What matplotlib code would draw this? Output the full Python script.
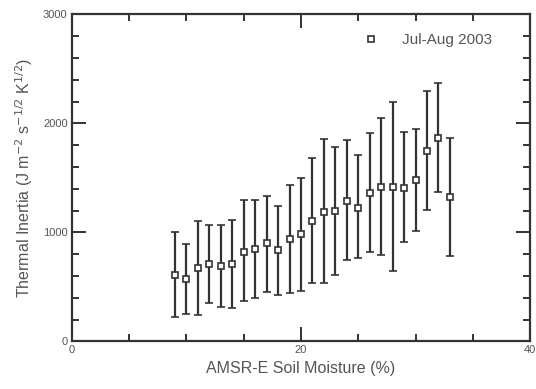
import numpy as np
import matplotlib.pyplot as plt
from matplotlib.lines import Line2D
from matplotlib.ticker import MultipleLocator

# Soil moisture bins (%) and thermal inertia statistics
moisture = [9, 10, 11, 12, 13, 14, 15, 16, 17, 18, 19, 20, 21,
            22, 23, 24, 25, 26, 27, 28, 29, 30, 31, 32, 33]
inertia_mean = [611, 569, 675, 709, 688, 709, 822, 847, 899, 835, 941, 984, 1101,
                1186, 1195, 1290, 1226, 1363, 1418, 1418, 1406, 1480, 1746, 1865, 1321]
inertia_top = [1006, 890, 1104, 1067, 1067, 1113, 1296, 1296, 1336, 1238, 1431, 1495, 1684,
               1856, 1780, 1847, 1709, 1908, 2046, 2198, 1917, 1945, 2293, 2367, 1865]
inertia_bottom = [220, 253, 241, 351, 315, 306, 370, 397, 452, 422, 446, 461, 532,
                  532, 608, 746, 761, 816, 792, 645, 908, 1015, 1205, 1372, 783]
series_label = 'Jul-Aug 2003'

plt.rcParams['font.family'] = ['Liberation Sans', 'DejaVu Sans']
txt_col = '#555555'
ink = '#333333'

fig = plt.figure(figsize=(5.36, 3.89), dpi=100)
ax = fig.add_axes([0.134, 0.1226, 0.855, 0.8406])

mean = np.array(inertia_mean)
err = [mean - np.array(inertia_bottom), np.array(inertia_top) - mean]
ax.errorbar(moisture, mean, yerr=err, fmt='s', ms=4, mfc='white', mec=ink, mew=1.2,
            ecolor=ink, elinewidth=1.6, capsize=3, capthick=1.6)

ax.set_xlim(0, 40)
ax.set_ylim(0, 3000)
ax.xaxis.set_major_locator(MultipleLocator(20))
ax.xaxis.set_minor_locator(MultipleLocator(5))
ax.yaxis.set_major_locator(MultipleLocator(1000))
ax.yaxis.set_minor_locator(MultipleLocator(200))
ax.tick_params(which='both', direction='in', top=True, right=True,
               color=ink, width=1.4, labelsize=8, labelcolor=txt_col)
ax.tick_params(which='major', length=10, pad=3)
ax.tick_params(which='minor', length=5)
for s in ax.spines.values():
    s.set_color(ink)
    s.set_linewidth(1.6)

ax.set_xlabel('AMSR-E Soil Moisture (%)', fontsize=11.5, color=txt_col, labelpad=4)
ax.set_ylabel('Thermal Inertia (J m$^{-2}$ s$^{-1/2}$ K$^{1/2}$)', fontsize=11.5,
              color=txt_col, labelpad=6)

# legend shows the marker only
handle = Line2D([], [], ls='none', marker='s', ms=4, mfc='white', mec=ink, mew=1.2)
leg = ax.legend([handle], [series_label], loc='upper right', frameon=False,
                fontsize=11, handletextpad=1.0, borderaxespad=0.3,
                bbox_to_anchor=(0.94, 0.975))
for t in leg.get_texts():
    t.set_color(txt_col)

fig.savefig('out.png', dpi=100)
